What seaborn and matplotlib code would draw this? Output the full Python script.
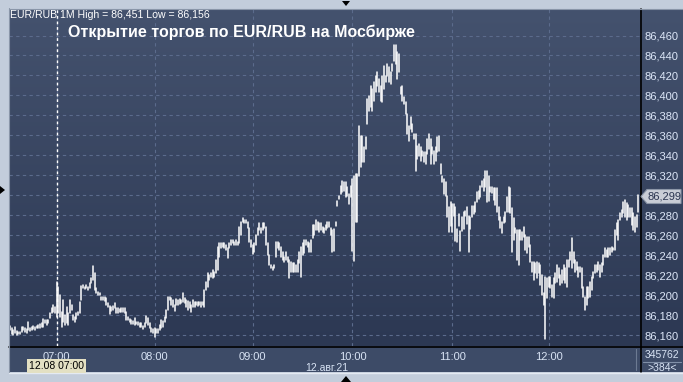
import numpy as np
import pandas as pd
import matplotlib
matplotlib.use("Agg")
import matplotlib.pyplot as plt
import seaborn as sns
from matplotlib.patches import Polygon, Rectangle
from matplotlib.lines import Line2D

# ---------------- data (1-minute bars, EUR/RUB, 12 Aug 2021) ----------------
highs = [
    86.169, 86.167, 86.165, 86.168, 86.164, 86.163, 86.163, 86.168, 86.168, 86.167,
    86.166, 86.173, 86.167, 86.168, 86.169, 86.168, 86.169, 86.170, 86.171, 86.172,
    86.176, 86.175, 86.175, 86.175, 86.182, 86.187, 86.190, 86.188, 86.213, 86.208,
    86.200, 86.183, 86.195, 86.180, 86.188, 86.182, 86.195, 86.190, 86.180, 86.178,
    86.182, 86.183, 86.193, 86.209, 86.210, 86.208, 86.210, 86.208, 86.212, 86.217,
    86.229, 86.222, 86.207, 86.203, 86.202, 86.198, 86.198, 86.198, 86.197, 86.192,
    86.189, 86.188, 86.189, 86.192, 86.187, 86.187, 86.186, 86.187, 86.187, 86.187,
    86.183, 86.178, 86.176, 86.175, 86.174, 86.177, 86.173, 86.173, 86.172, 86.172,
    86.169, 86.172, 86.179, 86.177, 86.172, 86.167, 86.166, 86.167, 86.166, 86.166,
    86.170, 86.175, 86.174, 86.178, 86.185, 86.198, 86.198,
    86.197, 86.195, 86.190, 86.196, 86.195, 86.196, 86.195, 86.202, 86.197, 86.195,
    86.194, 86.193, 86.190, 86.195, 86.193, 86.193, 86.193, 86.193, 86.193, 86.193,
    86.205, 86.213, 86.222, 86.220, 86.222, 86.225, 86.223, 86.235, 86.248, 86.252,
    86.252, 86.252, 86.252, 86.250, 86.247, 86.252, 86.255, 86.255, 86.253, 86.255,
    86.253, 86.268, 86.273, 86.277, 86.275, 86.275, 86.273, 86.267, 86.255, 86.250,
    86.252, 86.260, 86.267, 86.272, 86.267, 86.272, 86.272, 86.268, 86.252, 86.240,
    86.230, 86.228, 86.230, 86.253, 86.253, 86.252, 86.248, 86.243, 86.238, 86.243,
    86.238, 86.235, 86.233, 86.232, 86.232, 86.230, 86.235, 86.243, 86.248, 86.252,
    86.255, 86.255, 86.253, 86.252, 86.255, 86.270, 86.270, 86.275, 86.273, 86.272,
    86.272, 86.268, 86.267, 86.270, 86.273, 86.273, 86.267, 86.265,
    86.266, 86.273, 86.294, 86.299, 86.309, 86.314, 86.313, 86.313, 86.308, 86.301,
    86.309, 86.316, 86.319, 86.321, 86.321, 86.369, 86.359, 86.359, 86.348, 86.358,
    86.396, 86.399, 86.409, 86.406, 86.413, 86.419, 86.423, 86.416, 86.409, 86.419,
    86.429, 86.419, 86.431, 86.428, 86.423, 86.431, 86.451, 86.451, 86.443, 86.441,
    86.408, 86.409, 86.398, 86.393, 86.381, 86.369, 86.378, 86.371, 86.361, 86.361,
    86.349, 86.351, 86.348, 86.344, 86.343, 86.343, 86.356, 86.361, 86.356, 86.348,
    86.344, 86.348, 86.358, 86.359, 86.331, 86.319, 86.316, 86.313, 86.299, 86.288,
    86.293, 86.291, 86.291, 86.288, 86.266, 86.281, 86.264, 86.278, 86.283, 86.284,
    86.288, 86.279, 86.278, 86.289, 86.289, 86.293, 86.303, 86.304, 86.309, 86.314,
    86.316, 86.324, 86.324, 86.319,
    86.308, 86.308, 86.307, 86.307, 86.307, 86.288, 86.278, 86.273, 86.278, 86.283,
    86.298, 86.308, 86.307, 86.287, 86.277, 86.267, 86.265, 86.265, 86.265, 86.263,
    86.268, 86.260, 86.258, 86.258, 86.250, 86.233, 86.233, 86.232, 86.233, 86.232,
    86.230, 86.220, 86.202, 86.218, 86.217, 86.218, 86.218, 86.210, 86.217, 86.222,
    86.230, 86.227, 86.220, 86.225, 86.230, 86.227, 86.235, 86.235, 86.243, 86.257,
    86.243, 86.235, 86.233, 86.228, 86.228, 86.227, 86.208, 86.198, 86.208, 86.208,
    86.213, 86.218, 86.223, 86.230, 86.230, 86.233, 86.230, 86.232, 86.240, 86.247,
    86.245, 86.247, 86.247, 86.248, 86.247, 86.265, 86.272, 86.275, 86.282, 86.285,
    86.293, 86.295, 86.292, 86.290, 86.287, 86.287, 86.282, 86.278, 86.280, 86.300,
]
lows = [
    86.165, 86.161, 86.160, 86.162, 86.160, 86.161, 86.161, 86.163, 86.165, 86.163,
    86.162, 86.165, 86.164, 86.165, 86.166, 86.165, 86.167, 86.167, 86.167, 86.168,
    86.168, 86.172, 86.170, 86.172, 86.177, 86.182, 86.183, 86.182, 86.178, 86.182,
    86.178, 86.168, 86.173, 86.170, 86.172, 86.170, 86.182, 86.185, 86.175, 86.173,
    86.176, 86.180, 86.182, 86.195, 86.207, 86.206, 86.207, 86.205, 86.207, 86.212,
    86.215, 86.205, 86.202, 86.200, 86.200, 86.195, 86.195, 86.194, 86.190, 86.188,
    86.181, 86.184, 86.185, 86.187, 86.182, 86.182, 86.183, 86.183, 86.183, 86.182,
    86.175, 86.175, 86.173, 86.171, 86.171, 86.170, 86.171, 86.170, 86.168, 86.168,
    86.166, 86.168, 86.172, 86.170, 86.167, 86.163, 86.162, 86.158, 86.162, 86.162,
    86.165, 86.167, 86.168, 86.173, 86.177, 86.185, 86.195,
    86.190, 86.188, 86.184, 86.190, 86.190, 86.191, 86.192, 86.193, 86.192, 86.188,
    86.185, 86.187, 86.183, 86.188, 86.188, 86.190, 86.189, 86.190, 86.188, 86.190,
    86.188, 86.205, 86.208, 86.215, 86.218, 86.217, 86.218, 86.222, 86.225, 86.238,
    86.247, 86.248, 86.247, 86.245, 86.237, 86.247, 86.250, 86.252, 86.250, 86.250,
    86.250, 86.252, 86.260, 86.273, 86.272, 86.272, 86.267, 86.253, 86.248, 86.241,
    86.243, 86.250, 86.260, 86.265, 86.262, 86.265, 86.267, 86.250, 86.240, 86.230,
    86.227, 86.225, 86.227, 86.238, 86.247, 86.245, 86.238, 86.235, 86.233, 86.235,
    86.233, 86.217, 86.223, 86.223, 86.223, 86.223, 86.223, 86.232, 86.218, 86.240,
    86.242, 86.250, 86.248, 86.243, 86.243, 86.257, 86.260, 86.265, 86.265, 86.263,
    86.265, 86.263, 86.262, 86.265, 86.267, 86.268, 86.260, 86.243,
    86.244, 86.269, 86.289, 86.296, 86.301, 86.303, 86.304, 86.298, 86.299, 86.291,
    86.298, 86.244, 86.234, 86.273, 86.273, 86.319, 86.328, 86.333, 86.333, 86.346,
    86.371, 86.384, 86.388, 86.384, 86.394, 86.403, 86.409, 86.403, 86.394, 86.393,
    86.406, 86.413, 86.419, 86.413, 86.411, 86.424, 86.434, 86.431, 86.416, 86.423,
    86.401, 86.394, 86.391, 86.381, 86.361, 86.354, 86.366, 86.363, 86.356, 86.324,
    86.336, 86.339, 86.334, 86.339, 86.333, 86.331, 86.341, 86.346, 86.331, 86.341,
    86.331, 86.334, 86.343, 86.344, 86.321, 86.313, 86.301, 86.299, 86.278, 86.263,
    86.269, 86.263, 86.279, 86.254, 86.253, 86.269, 86.244, 86.264, 86.266, 86.279,
    86.271, 86.243, 86.266, 86.278, 86.281, 86.283, 86.293, 86.296, 86.298, 86.308,
    86.304, 86.308, 86.293, 86.294,
    86.303, 86.302, 86.295, 86.290, 86.283, 86.275, 86.267, 86.262, 86.272, 86.273,
    86.283, 86.283, 86.282, 86.243, 86.255, 86.262, 86.235, 86.230, 86.255, 86.255,
    86.258, 86.245, 86.242, 86.248, 86.233, 86.223, 86.215, 86.222, 86.217, 86.222,
    86.210, 86.200, 86.190, 86.156, 86.197, 86.208, 86.207, 86.198, 86.197, 86.212,
    86.213, 86.217, 86.210, 86.212, 86.215, 86.212, 86.208, 86.228, 86.235, 86.227,
    86.232, 86.223, 86.225, 86.218, 86.223, 86.207, 86.198, 86.185, 86.190, 86.197,
    86.198, 86.205, 86.217, 86.222, 86.223, 86.225, 86.218, 86.223, 86.230, 86.238,
    86.238, 86.238, 86.240, 86.243, 86.245, 86.245, 86.260, 86.255, 86.275, 86.278,
    86.282, 86.278, 86.275, 86.278, 86.278, 86.270, 86.265, 86.263, 86.268, 86.283,
]
assert len(highs) == len(lows), (len(highs), len(lows))

hour_bars = [28, 87, 146, 206, 266, 324]
hour_labels = ["07:00", "08:00", "09:00", "10:00", "11:00", "12:00"]
grid_prices = [86.16, 86.18, 86.20, 86.22, 86.24, 86.26, 86.28, 86.30,
               86.32, 86.34, 86.36, 86.38, 86.40, 86.42, 86.44, 86.46]
# 86,300 is hidden behind the last-price marker in the original
label_prices = [86.16, 86.18, 86.20, 86.22, 86.24, 86.26, 86.28,
                86.32, 86.34, 86.36, 86.38, 86.40, 86.42, 86.44, 86.46]
price_labels = ["86,160", "86,180", "86,200", "86,220", "86,240", "86,260",
                "86,280", "86,320", "86,340", "86,360", "86,380",
                "86,400", "86,420", "86,440", "86,460"]
cursor_bar = 28
last_price = 86.299
last_price_label = "86,299"
header = "EUR/RUB 1M High = 86,451 Low = 86,156"
title = "Открытие торгов по EUR/RUB на Мосбирже"
date_label = "12.авг.21"
cursor_label = "12.08 07:00"
volume_label = "345762"
count_label = ">384<"

# ---------------- long-form frame: one vertical stroke per bar ----------------
n = len(highs)
df = pd.DataFrame({
    "bar": np.repeat(np.arange(n), 2),
    "price": np.column_stack([lows, highs]).ravel(),
})

sns.set_theme(style="white")
plt.rcParams["font.family"] = ["Liberation Sans", "DejaVu Sans"]

W, H = 683, 382
fig = plt.figure(figsize=(W / 100, H / 100), dpi=100)
fig.patch.set_facecolor("#c3cddb")


def rect(x0, y0, x1, y1):
    return [x0 / W, 1 - y1 / H, (x1 - x0) / W, (y1 - y0) / H]


def fx(x):
    return x / W


def fy(y):
    return 1 - y / H


# bottom time band (drawn beneath everything)
fig.patches.append(Rectangle((fx(9), fy(372)), fx(674), (372 - 346) / H,
                             transform=fig.transFigure, facecolor="#3d4b67",
                             edgecolor="none", zorder=-5))

# gradient background (plot + price scale)
bg = fig.add_axes(rect(9, 9, 683, 346))
bg.set_zorder(-1)
top = np.array([0x44, 0x52, 0x6e]) / 255
bot = np.array([0x2c, 0x38, 0x53]) / 255
t = np.linspace(0, 1, 256)[:, None]
grad = (top[None, :] * (1 - t) + bot[None, :] * t)[:, None, :]
bg.imshow(grad, aspect="auto", extent=[0, 1, 0, 1], interpolation="bilinear")
bg.set_axis_off()

ax = fig.add_axes(rect(9, 9, 640, 346))
ax.set_zorder(1)
ax.set_facecolor("none")
y_top = 86.46 + (35.5 - 9) / 1000
y_bot = 86.46 - (346 - 35.5) / 1000

grid_kw = dict(color="#5b6b8c", lw=0.8, linestyle=(0, (3, 3)), zorder=1)
for p in grid_prices:
    ax.axhline(p, **grid_kw)
for b in hour_bars:
    ax.axvline(b, **grid_kw)

sns.lineplot(data=df, x="bar", y="price", units="bar", estimator=None,
             color="white", lw=1.1, ax=ax, legend=False, zorder=3)

# cursor line
ax.axvline(cursor_bar, color="white", lw=1.0, linestyle=(0, (2, 2)), zorder=4)

ax.set_xlabel("")
ax.set_ylabel("")
for s in ax.spines.values():
    s.set_visible(False)
ax.yaxis.tick_right()
ax.set_yticks(label_prices, price_labels)
ax.set_xticks(hour_bars, hour_labels)
ax.set_ylim(y_bot, y_top)
ax.set_xlim(-0.6, n - 1 + 1.0)
ax.tick_params(axis="y", length=0, pad=3, labelsize=8, labelcolor="#dde7f8")
ax.tick_params(axis="x", length=0, pad=4, labelsize=8, labelcolor="#d8e3f4")

# black separators
fig.add_artist(Line2D([fx(640.5), fx(640.5)], [fy(9), fy(372)],
                      transform=fig.transFigure, color="black", lw=1.2))
fig.add_artist(Line2D([fx(9), fx(683)], [fy(346.5), fy(346.5)],
                      transform=fig.transFigure, color="black", lw=1.2))
fig.add_artist(Line2D([fx(8.5), fx(8.5)], [fy(8), fy(373)],
                      transform=fig.transFigure, color="#8a96a8", lw=0.8))
fig.add_artist(Line2D([fx(9), fx(683)], [fy(8.5), fy(8.5)],
                      transform=fig.transFigure, color="#8a96a8", lw=0.8))
fig.add_artist(Line2D([fx(9), fx(683)], [fy(372.5), fy(372.5)],
                      transform=fig.transFigure, color="#e4eaf2", lw=1.0))
fig.add_artist(Line2D([fx(636), fx(636)], [fy(349), fy(370)],
                      transform=fig.transFigure, color="#6c7a92", lw=0.8))
fig.add_artist(Line2D([fx(643), fx(681)], [fy(362), fy(362)],
                      transform=fig.transFigure, color="#8190a8", lw=0.8))

# last price marker
py = 35.5 + (86.46 - last_price) * 1000
poly = Polygon([(fx(641), fy(py)), (fx(647), fy(py - 7)), (fx(681), fy(py - 7)),
                (fx(681), fy(py + 7)), (fx(647), fy(py + 7))], closed=True,
               transform=fig.transFigure, facecolor="#c9cdd6", edgecolor="#8d97a8",
               lw=0.8, zorder=5)
fig.patches.append(poly)
fig.text(fx(664), fy(py), last_price_label, ha="center", va="center",
         fontsize=8, color="#2b3550", zorder=6)

# texts
fig.text(fx(10), fy(15), header, ha="left", va="center", fontsize=7.6,
         color="white")
fig.text(fx(68), fy(32), title, ha="left", va="center", fontsize=11.5,
         fontweight="bold", color="white")
fig.text(fx(327), fy(368), date_label, ha="center", va="center", fontsize=7.5,
         color="#d8e3f4")
fig.text(fx(662), fy(355), volume_label, ha="center", va="center",
         fontsize=7.5, color="#d8e3f4")
fig.text(fx(662), fy(368), count_label, ha="center", va="center",
         fontsize=7.5, color="#d8e3f4")
fig.text(fx(56.5), fy(366), cursor_label, ha="center", va="center",
         fontsize=7.5, color="black", zorder=6,
         bbox=dict(boxstyle="square,pad=0.15", facecolor="#e3e0c3",
                   edgecolor="none"))

# small navigation triangles
for pts in ([(342, 1), (350, 1), (346, 6)],
            [(0, 186), (0, 194), (5, 190)],
            [(341, 382), (351, 382), (346, 376)]):
    fig.patches.append(Polygon([(fx(a), fy(b)) for a, b in pts], closed=True,
                               transform=fig.transFigure, facecolor="black",
                               edgecolor="none", zorder=6))

fig.savefig("out.png", dpi=100, facecolor=fig.get_facecolor())
